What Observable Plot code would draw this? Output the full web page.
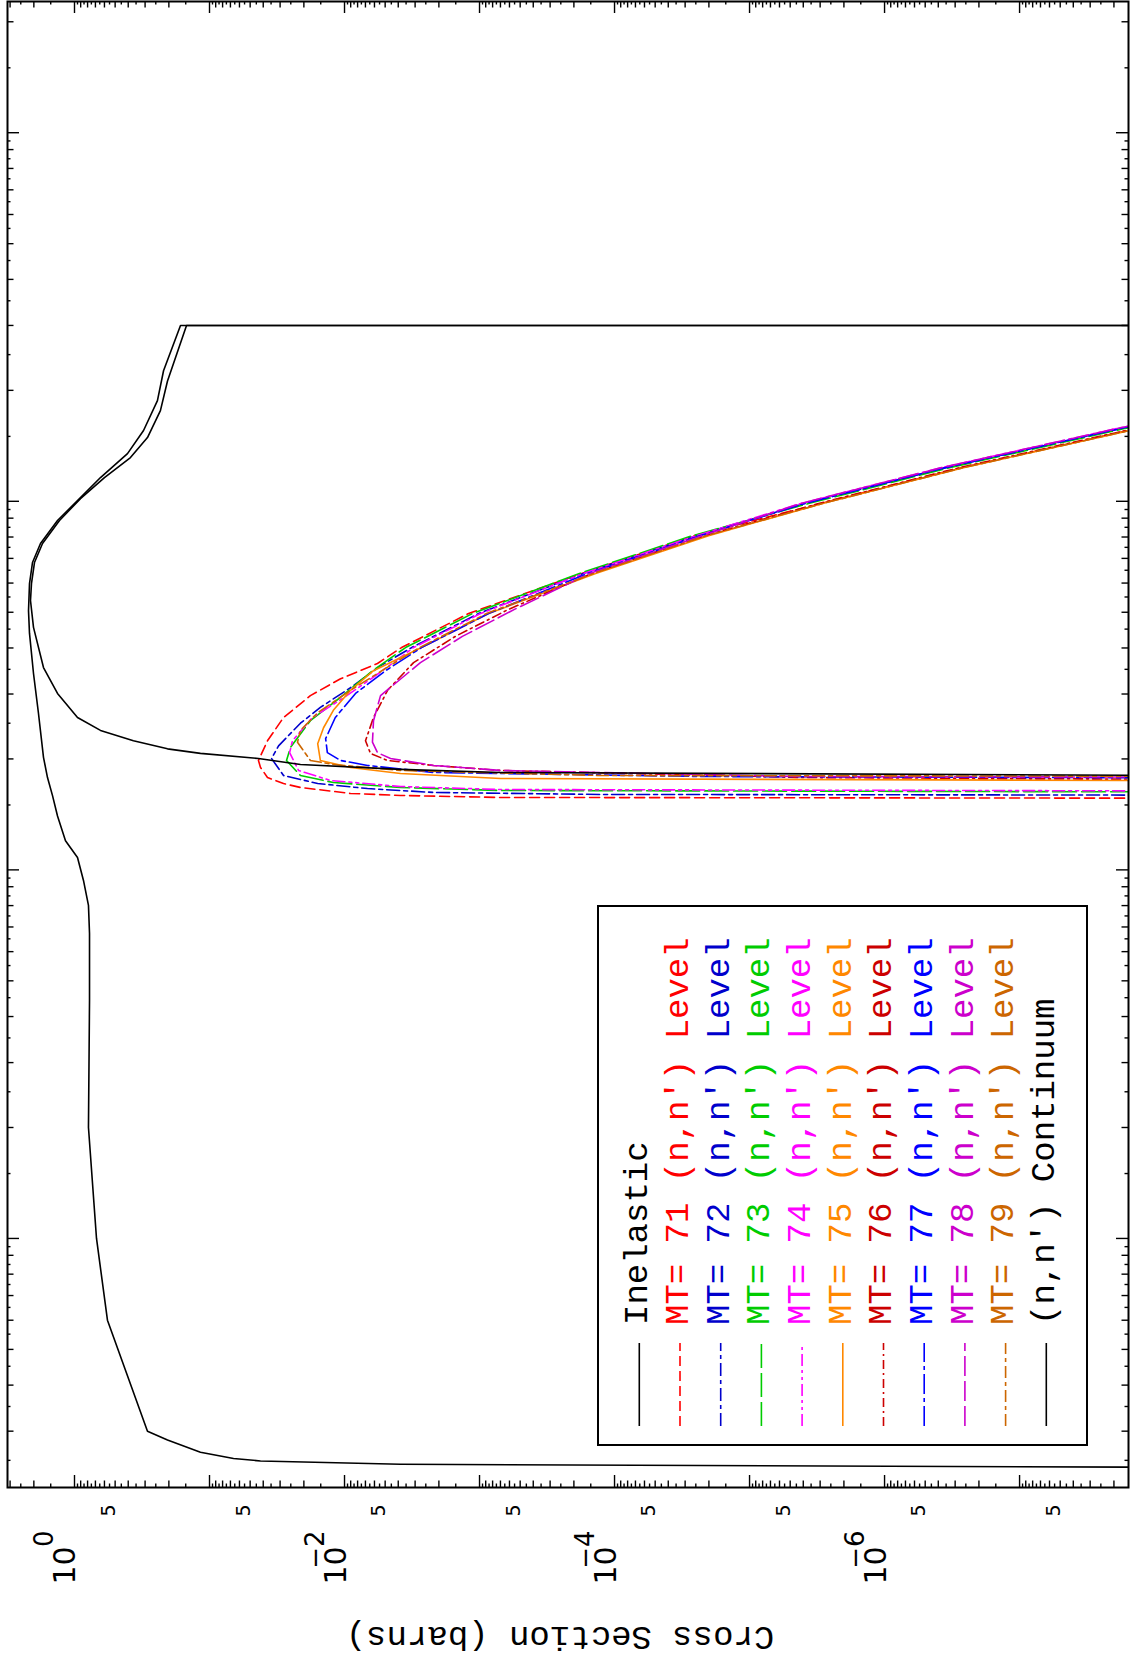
<!DOCTYPE html>
<html><head><meta charset="utf-8">
<script src="https://cdn.jsdelivr.net/npm/d3@7"></script>
<script src="https://cdn.jsdelivr.net/npm/@observablehq/plot@0.6"></script>
<style>html,body{margin:0;padding:0;background:#fff;} #chart svg{display:block;}</style>
</head><body><div id="chart"></div>
<script>
// ---------- DATA (energy in eV, cross section in barns) ----------
const inelasticE  = [2.38e4,2.42e4,2.44e4,2.49e4,2.53e4,2.63e4,2.84e4,3.00e4,6.00e4,1.00e5,2.0e5,4.42e5,6.72e5,8.01e5,9.36e5,1.08e6,1.20e6,1.40e6,1.59e6,1.78e6,2.02e6,2.66e6,3.41e6,4.38e6,5.05e6,5.98e6,6.82e6,7.68e6,8.87e6,1.004e7,1.160e7,1.347e7,1.556e7,1.875e7,2.26e7,3.0e7,3.0e7];
const inelasticXS = [1e-10,2.31e-5,3.85e-3,4.19e-2,6.64e-2,0.1167,0.2047,0.288,0.570,0.687,0.788,0.774,0.774,0.788,0.858,0.950,1.166,1.336,1.455,1.585,1.697,1.849,2.012,2.154,2.191,2.154,2.047,1.786,1.336,0.950,0.642,0.405,0.308,0.243,0.219,0.164,1e-10];

const continuumE  = [1.792e6,1.838e6,1.873e6,1.932e6,2.005e6,2.07e6,2.13e6,2.24e6,2.39e6,2.59e6,3.01e6,3.54e6,4.55e6,5.38e6,5.98e6,6.82e6,7.68e6,8.87e6,1.017e7,1.160e7,1.314e7,1.489e7,1.762e7,2.12e7,3.0e7,3.0e7];
const continuumXS = [1e-10,6.99e-4,3.85e-3,2.12e-2,4.34e-2,0.1167,0.2047,0.366,0.642,0.950,1.336,1.697,2.012,2.118,2.083,1.979,1.726,1.292,0.903,0.600,0.385,0.288,0.231,0.2047,0.148,1e-10];

const mt71E  = [1.562e6,1.572e6,1.592e6,1.612e6,1.673e6,1.715e6,1.781e6,1.896e6,1.981e6,2.24e6,2.59e6,2.97e6,3.30e6,3.63e6,4.01e6,4.96e6,6.37e6,8.07e6,9.86e6,1.234e7,1.575e7,1.73e7];
const mt71XS = [1e-10,6.99e-4,3.85e-3,9.03e-3,2.12e-2,2.83e-2,3.72e-2,4.19e-2,4.34e-2,3.72e-2,2.83e-2,1.79e-2,1.07e-2,5.70e-3,3.78e-3,1.205e-3,1.75e-4,2.55e-5,2.98e-6,2.69e-7,1.36e-8,3.98e-9];

const mt72E  = [1.592e6,1.602e6,1.622e6,1.662e6,1.715e6,1.803e6,2.005e6,2.17e6,2.50e6,2.76e6,3.12e6,3.58e6,4.01e6,4.96e6,6.37e6,8.07e6,9.86e6,1.234e7,1.575e7,1.73e7];
const mt72XS = [1e-10,1.27e-4,2.19e-3,6.76e-3,1.58e-2,2.83e-2,3.47e-2,3.08e-2,2.12e-2,1.51e-2,9.03e-3,5.41e-3,3.18e-3,1.016e-3,1.70e-4,2.47e-5,3.91e-6,3.53e-7,1.79e-8,5.22e-9];

const mt73E  = [1.622e6,1.642e6,1.673e6,1.726e6,1.803e6,1.981e6,2.15e6,2.54e6,2.94e6,3.47e6,4.01e6,4.96e6,6.37e6,8.07e6,9.86e6,1.234e7,1.575e7,1.73e7];
const mt73XS = [1e-10,6.99e-4,3.85e-3,1.21e-2,2.12e-2,2.69e-2,2.51e-2,1.79e-2,1.07e-2,6.21e-3,3.53e-3,1.127e-3,1.82e-4,2.64e-5,3.66e-6,3.30e-7,1.67e-8,4.89e-9];

const mt74E  = [1.632e6,1.652e6,1.683e6,1.748e6,1.861e6,2.08e6,2.24e6,2.59e6,2.94e6,3.41e6,4.01e6,4.96e6,6.37e6,8.07e6,9.86e6,1.234e7,1.575e7,1.73e7];
const mt74XS = [1e-10,6.99e-4,3.85e-3,1.27e-2,2.19e-2,2.55e-2,2.43e-2,1.73e-2,1.00e-2,5.60e-3,3.08e-3,9.82e-4,1.70e-4,2.47e-5,4.19e-6,3.78e-7,1.91e-8,5.60e-9];

const mt75E  = [1.737e6,1.770e6,1.826e6,1.896e6,1.981e6,2.20e6,2.43e6,2.71e6,3.07e6,3.47e6,4.01e6,4.96e6,6.37e6,8.07e6,9.86e6,1.234e7,1.575e7,1.73e7];
const mt75XS = [1e-10,6.99e-4,3.85e-3,9.03e-3,1.51e-2,1.58e-2,1.43e-2,1.21e-2,9.03e-3,6.10e-3,2.69e-3,8.57e-4,1.38e-4,2.01e-5,2.88e-6,2.60e-7,1.32e-8,3.85e-9];

const mt76E  = [1.748e6,1.781e6,1.861e6,1.92e6,1.981e6,2.07e6,2.24e6,2.59e6,3.07e6,3.65e6,4.30e6,5.09e6,6.37e6,8.07e6,9.86e6,1.234e7,1.575e7,1.73e7];
const mt76XS = [1e-10,4.19e-6,6.99e-4,2.19e-3,4.80e-3,6.42e-3,6.99e-3,6.10e-3,4.80e-3,3.08e-3,1.51e-3,6.10e-4,1.48e-4,2.15e-5,3.08e-6,2.79e-7,1.41e-8,4.12e-9];

const mt77E  = [1.770e6,1.792e6,1.838e6,1.92e6,1.981e6,2.08e6,2.27e6,2.59e6,3.01e6,3.47e6,4.01e6,4.96e6,6.37e6,8.07e6,9.86e6,1.234e7,1.575e7,1.73e7];
const mt77XS = [1e-10,2.31e-5,2.19e-3,6.76e-3,1.07e-2,1.34e-2,1.38e-2,1.17e-2,8.29e-3,4.97e-3,2.69e-3,8.57e-4,1.58e-4,2.31e-5,3.91e-6,3.53e-7,1.79e-8,5.22e-9];

const mt78E  = [1.781e6,1.792e6,1.861e6,1.92e6,2.005e6,2.08e6,2.22e6,2.54e6,2.97e6,3.65e6,4.30e6,5.09e6,6.37e6,8.07e6,9.86e6,1.234e7,1.575e7,1.73e7];
const mt78XS = [1e-10,4.19e-6,6.99e-4,2.19e-3,4.56e-3,5.70e-3,6.21e-3,6.10e-3,5.41e-3,2.74e-3,1.34e-3,5.51e-4,1.53e-4,2.23e-5,4.19e-6,3.78e-7,1.91e-8,5.60e-9];

const mt79E  = [1.792e6,1.803e6,1.861e6,1.932e6,1.981e6,2.22e6,2.39e6,2.67e6,3.07e6,3.52e6,4.01e6,4.96e6,6.37e6,8.07e6,9.86e6,1.234e7,1.575e7,1.73e7];
const mt79XS = [1e-10,1.27e-4,3.85e-3,1.21e-2,1.79e-2,2.23e-2,2.12e-2,1.58e-2,9.03e-3,4.97e-3,2.78e-3,8.87e-4,1.43e-4,2.08e-5,2.88e-6,2.60e-7,1.32e-8,3.85e-9];

const legendLabels = ["Inelastic","MT= 71 (n,n′) Level","MT= 72 (n,n′) Level","MT= 73 (n,n′) Level","MT= 74 (n,n′) Level","MT= 75 (n,n′) Level","MT= 76 (n,n′) Level","MT= 77 (n,n′) Level","MT= 78 (n,n′) Level","MT= 79 (n,n′) Level","(n,n′) Continuum"];

const decadeLabelValues = [1, 1e-2, 1e-4, 1e-6];
const decadeLabelExps   = ["0", "−2", "−4", "−6"];
const fiveLabelValues   = [5e-1, 5e-2, 5e-3, 5e-4, 5e-5, 5e-6, 5e-7, 5e-8];
const yTitle = "Cross Section (barns)";

// ---------- STYLES ----------
const seriesStyles = [
  {color: "#000000", dash: null},
  {color: "#ff0000", dash: "10,5"},
  {color: "#0000cc", dash: "13,4,4,4"},
  {color: "#00cc00", dash: "24,5"},
  {color: "#ff00ff", dash: "12,4,3,4,3,4"},
  {color: "#ff8800", dash: null},
  {color: "#cc0000", dash: "9,4,2,4"},
  {color: "#0000ff", dash: "20,4,4,4"},
  {color: "#cc00cc", dash: "20,5"},
  {color: "#cc6600", dash: "12,4,4,4"},
  {color: "#000000", dash: null}
];

const seriesE  = [inelasticE, mt71E, mt72E, mt73E, mt74E, mt75E, mt76E, mt77E, mt78E, mt79E, continuumE];
const seriesXS = [inelasticXS, mt71XS, mt72XS, mt73XS, mt74XS, mt75XS, mt76XS, mt77XS, mt78XS, mt79XS, continuumXS];

// ---------- LAYOUT ----------
const W = 1131, H = 1661;
const ML = 7, MR = 3, MT = 1, MB = 174;
const FW = W - ML - MR, FH = H - MT - MB;
const xDomain = [3.135, 1.56e-8];
const yDomain = [2.11e4, 2.27e8];

// tick positions (k x 10^n, k = 1, 1.5, 2, ... 9.5)
function tickSets(lo, hi, nmin, nmax) {
  const major = [], integer = [], half = [];
  for (let n = nmin; n <= nmax; n++) {
    for (let k2 = 2; k2 < 20; k2++) {
      const v = +((k2 / 2) * Math.pow(10, n)).toPrecision(6);
      if (v < lo || v > hi) continue;
      if (k2 === 2) major.push(v); else if (k2 % 2 === 0) integer.push(v); else half.push(v);
    }
  }
  return {major, integer, half};
}
const xt = tickSets(1.56e-8, 3.135, -9, 1);
const yt = tickSets(2.11e4, 2.27e8, 4, 8);
const tickLen = {major: 12, integer: 6.5, half: 3.5};
const tickMarks = [];
for (const key of ["major", "integer", "half"]) {
  const L = tickLen[key];
  tickMarks.push(Plot.ruleX(xt[key], {x: d => d, insetTop: FH - L, stroke: "black", strokeWidth: 1.4}));
  tickMarks.push(Plot.ruleX(xt[key], {x: d => d, insetBottom: FH - L, stroke: "black", strokeWidth: 1.4}));
  tickMarks.push(Plot.ruleY(yt[key], {y: d => d, insetRight: FW - L, stroke: "black", strokeWidth: 1.4}));
  tickMarks.push(Plot.ruleY(yt[key], {y: d => d, insetLeft: FW - L, stroke: "black", strokeWidth: 1.4}));
}

const curveMarks = seriesE.map((E, i) => {
  const data = E.map((e, j) => ({e, xs: seriesXS[i][j]}));
  const s = seriesStyles[i];
  const opts = {x: "xs", y: "e", stroke: s.color, strokeWidth: 1.6, clip: true, curve: "linear"};
  if (s.dash) opts.strokeDasharray = s.dash;
  return Plot.line(data, opts);
});

// legend (inside the frame, bottom-right)
function legendMark() {
  const right = ML + FW - 41, bottom = MT + FH - 42;
  const bw = 489, bh = 539;
  const left = right - bw, top = bottom - bh;
  const g = d3.create("svg:g");
  g.append("rect").attr("x", left).attr("y", top).attr("width", bw).attr("height", bh)
    .attr("fill", "white").attr("stroke", "black").attr("stroke-width", 2);
  legendLabels.forEach((label, i) => {
    const cx = left + 41.3 + i * 40.7;
    const s = seriesStyles[i];
    g.append("line").attr("x1", cx).attr("x2", cx).attr("y1", bottom - 19).attr("y2", bottom - 102)
      .attr("stroke", s.color).attr("stroke-width", 1.6).attr("stroke-dasharray", s.dash);
    g.append("text").attr("transform", `translate(${cx - 3},${bottom - 120}) rotate(-90)`)
      .attr("dy", "0.32em").attr("fill", s.color)
      .attr("font-family", "'Liberation Mono', 'DejaVu Sans Mono', monospace").attr("font-size", 34)
      .attr("text-anchor", "start").style("white-space", "pre").text(label);
  });
  return g.node();
}

const chart = Plot.plot({
  width: W, height: H,
  marginLeft: ML, marginRight: MR, marginTop: MT, marginBottom: MB,
  style: {background: "white", overflow: "visible"},
  x: {type: "log", domain: xDomain, axis: null},
  y: {type: "log", domain: yDomain, axis: null},
  marks: [
    ...curveMarks,
    ...tickMarks,
    Plot.frame({stroke: "black", strokeWidth: 2}),
    legendMark,
    Plot.text(fiveLabelValues, {x: d => d, text: () => "5", frameAnchor: "bottom", dy: 23, rotate: -90,
      lineAnchor: "bottom", textAnchor: "middle", fontSize: 19, fontFamily: "DejaVu Sans", fill: "black"}),
    Plot.text(decadeLabelValues, {x: d => d, text: () => "10", frameAnchor: "bottom", dx: 1, dy: 97, rotate: -90,
      lineAnchor: "bottom", textAnchor: "start", fontSize: 30, fontFamily: "DejaVu Sans", fill: "black"}),
    Plot.text(decadeLabelValues, {x: d => d, text: (d, i) => decadeLabelExps[i], frameAnchor: "bottom", dx: -21, dy: 43, rotate: -90,
      lineAnchor: "bottom", textAnchor: "end", fontSize: 26, fontFamily: "DejaVu Sans", fill: "black"}),
    Plot.text([yTitle], {text: d => d, frameAnchor: "bottom", dx: -8, dy: 150, rotate: 180,
      lineAnchor: "middle", textAnchor: "middle", fontSize: 34, fontFamily: "Liberation Mono", fill: "black"})
  ]
});
document.getElementById("chart").appendChild(chart);
</script></body></html>
